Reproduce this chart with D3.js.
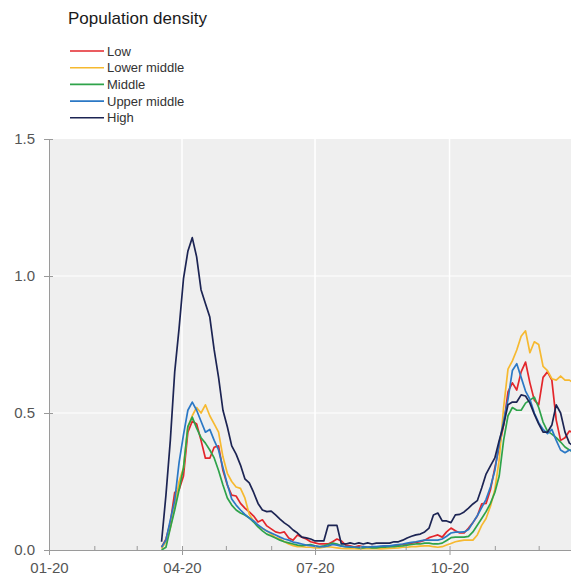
<!DOCTYPE html>
<html>
<head>
<meta charset="utf-8">
<script src="https://cdn.jsdelivr.net/npm/d3@7"></script>
<style>
    body { margin: 0; background: #ffffff; }
    svg { display: block; font-family: "Liberation Sans", Arial, sans-serif; }
</style>
</head>
<body>
<svg id="chart" width="571" height="577"></svg>
<script>
// Series values, one every 3 days starting 2020-03-18
const startDate = "2020-03-18";
const stepDays = 3;

const seriesNames = ["Low", "Lower middle", "Middle", "Upper middle", "High"];
const seriesColors = ["#e3262b", "#f6b930", "#2ea34a", "#2b78c5", "#1c2453"];

const low = [
    0.01, 0.04, 0.10, 0.21, 0.22, 0.27, 0.43, 0.47, 0.46, 0.40,
    0.335, 0.335, 0.375, 0.38, 0.29, 0.237, 0.20, 0.197, 0.17, 0.153,
    0.139, 0.124, 0.102, 0.11, 0.088, 0.077, 0.066, 0.062, 0.066, 0.044,
    0.036, 0.055, 0.047, 0.04, 0.03, 0.026, 0.022, 0.022, 0.022, 0.03,
    0.04, 0.033, 0.018, 0.015, 0.011, 0.015, 0.012, 0.01, 0.012, 0.01,
    0.012, 0.015, 0.012, 0.015, 0.018, 0.02, 0.022, 0.025, 0.028, 0.03,
    0.036, 0.045, 0.05, 0.055, 0.047, 0.066, 0.08, 0.07, 0.062, 0.062,
    0.08, 0.10, 0.124, 0.168, 0.17, 0.22, 0.30, 0.376, 0.456, 0.577,
    0.61, 0.584, 0.65, 0.686, 0.61, 0.547, 0.53, 0.63, 0.65, 0.62,
    0.474, 0.40, 0.41, 0.434, 0.427
];
const lowerMiddle = [
    0.005, 0.03, 0.08, 0.16, 0.25, 0.30, 0.45, 0.49, 0.52, 0.50,
    0.53, 0.49, 0.46, 0.43, 0.34, 0.28, 0.25, 0.23, 0.225, 0.19,
    0.13, 0.105, 0.09, 0.078, 0.07, 0.058, 0.045, 0.04, 0.03, 0.022,
    0.016, 0.012, 0.012, 0.01, 0.01, 0.008, 0.008, 0.01, 0.012, 0.01,
    0.008, 0.006, 0.005, 0.006, 0.005, 0.004, 0.005, 0.005, 0.006, 0.005,
    0.004, 0.005, 0.006, 0.007, 0.008, 0.01, 0.01, 0.012, 0.012, 0.014,
    0.015, 0.015, 0.012, 0.01, 0.012, 0.018, 0.024, 0.03, 0.033, 0.036,
    0.036, 0.036, 0.055, 0.09, 0.115, 0.16, 0.22, 0.33, 0.52, 0.66,
    0.69, 0.73, 0.78, 0.80, 0.72, 0.76, 0.75, 0.67, 0.655, 0.625,
    0.62, 0.635, 0.62, 0.62, 0.61
];
const middle = [
    0.0, 0.01, 0.08, 0.146, 0.22, 0.30, 0.45, 0.485, 0.445, 0.41,
    0.39, 0.365, 0.336, 0.29, 0.237, 0.19, 0.164, 0.146, 0.135, 0.128,
    0.117, 0.102, 0.084, 0.07, 0.058, 0.051, 0.044, 0.036, 0.03, 0.026,
    0.022, 0.018, 0.016, 0.018, 0.02, 0.015, 0.012, 0.015, 0.02, 0.025,
    0.022, 0.015, 0.012, 0.01, 0.01, 0.008, 0.008, 0.01, 0.008, 0.008,
    0.01, 0.01, 0.012, 0.012, 0.014, 0.015, 0.018, 0.02, 0.022, 0.022,
    0.025, 0.025, 0.022, 0.022, 0.025, 0.035, 0.045, 0.047, 0.047, 0.047,
    0.05, 0.066, 0.09, 0.115, 0.14, 0.17, 0.21, 0.27, 0.40, 0.49,
    0.52, 0.51, 0.51, 0.536, 0.547, 0.558, 0.52, 0.467, 0.434, 0.423,
    0.41, 0.394, 0.376, 0.365, 0.358
];
const upperMiddle = [
    0.01, 0.036, 0.11, 0.18, 0.32, 0.42, 0.51, 0.54, 0.51, 0.47,
    0.43, 0.44, 0.40, 0.365, 0.30, 0.24, 0.186, 0.164, 0.146, 0.13,
    0.117, 0.106, 0.091, 0.08, 0.069, 0.062, 0.055, 0.047, 0.04, 0.036,
    0.029, 0.026, 0.022, 0.018, 0.016, 0.014, 0.012, 0.012, 0.015, 0.02,
    0.018, 0.014, 0.012, 0.012, 0.01, 0.01, 0.012, 0.01, 0.012, 0.012,
    0.014, 0.015, 0.015, 0.018, 0.02, 0.022, 0.025, 0.028, 0.03, 0.033,
    0.036, 0.036, 0.036, 0.036, 0.04, 0.05, 0.062, 0.065, 0.065, 0.066,
    0.075, 0.10, 0.125, 0.155, 0.185, 0.23, 0.29, 0.39, 0.47, 0.55,
    0.655, 0.68, 0.63, 0.58, 0.55, 0.50, 0.465, 0.44, 0.425, 0.44,
    0.40, 0.365, 0.355, 0.365, 0.36
];
const high = [
    0.03, 0.20, 0.40, 0.65, 0.81, 0.99, 1.09, 1.14, 1.07, 0.95,
    0.90, 0.85, 0.73, 0.63, 0.51, 0.45, 0.38, 0.35, 0.31, 0.26,
    0.245, 0.21, 0.17, 0.146, 0.14, 0.142, 0.128, 0.113, 0.099, 0.088,
    0.073, 0.062, 0.047, 0.044, 0.04, 0.033, 0.033, 0.033, 0.09, 0.09,
    0.09, 0.022, 0.022, 0.026, 0.022, 0.026, 0.022, 0.026, 0.022, 0.025,
    0.025, 0.025, 0.025, 0.03, 0.03, 0.036, 0.044, 0.05, 0.055, 0.058,
    0.066, 0.08, 0.128, 0.135, 0.106, 0.106, 0.10, 0.128, 0.13, 0.139,
    0.153, 0.168, 0.18, 0.226, 0.277, 0.307, 0.336, 0.40, 0.456, 0.53,
    0.54, 0.54, 0.566, 0.562, 0.536, 0.496, 0.46, 0.43, 0.43, 0.456,
    0.53, 0.50, 0.43, 0.39, 0.38
];
const seriesValues = [low, lowerMiddle, middle, upperMiddle, high];

const yTicks = [0, 0.5, 1.0, 1.5];
const xTickLabels = ["01-20", "04-20", "07-20", "10-20"];

// layout
const width = 571, height = 577;
const plot = { left: 49, top: 139, bottom: 550, right: 584 };
const textColor = "#555555";
const axisColor = "#9a9a9a";

const svg = d3.select("#chart");

const parseTick = d3.utcParse("%m-%y");
const x = d3.scaleUtc()
    .domain([new Date(Date.UTC(2020, 0, 1)), new Date(Date.UTC(2021, 0, 1))])
    .range([plot.left, plot.right]);
const y = d3.scaleLinear()
    .domain([0, 1.5])
    .range([plot.bottom, plot.top]);

const start = d3.utcParse("%Y-%m-%d")(startDate);
const dates = low.map((_, i) => d3.utcDay.offset(start, i * stepDays));

// plot background
svg.append("rect")
    .attr("x", plot.left)
    .attr("y", plot.top)
    .attr("width", width - plot.left)
    .attr("height", plot.bottom - plot.top)
    .attr("fill", "#efefef");

// gridlines (white)
const quarterDates = xTickLabels.map(parseTick);
svg.append("g")
    .selectAll("line")
    .data(quarterDates.slice(1))
    .join("line")
        .attr("x1", d => x(d)).attr("x2", d => x(d))
        .attr("y1", plot.top).attr("y2", plot.bottom)
        .attr("stroke", "#ffffff")
        .attr("stroke-width", 1.5);
svg.append("g")
    .selectAll("line")
    .data(yTicks.slice(1, -1))
    .join("line")
        .attr("x1", plot.left).attr("x2", width)
        .attr("y1", d => y(d)).attr("y2", d => y(d))
        .attr("stroke", "#ffffff")
        .attr("stroke-width", 1);

// series lines
const line = d3.line()
    .x((d, i) => x(dates[i]))
    .y(d => y(d));

svg.append("g")
    .attr("fill", "none")
    .attr("stroke-width", 1.7)
    .attr("stroke-linejoin", "round")
    .selectAll("path")
    .data(seriesValues)
    .join("path")
        .attr("stroke", (d, i) => seriesColors[i])
        .attr("d", line);

// x axis: monthly minor ticks pointing up, quarter ticks with labels
svg.append("g")
    .attr("transform", `translate(0,${plot.bottom})`)
    .call(d3.axisBottom(x)
        .ticks(d3.utcMonth.every(1))
        .tickSizeInner(-4)
        .tickSizeOuter(0)
        .tickFormat(""))
    .call(g => g.select(".domain").attr("stroke", axisColor))
    .call(g => g.selectAll(".tick line").attr("stroke", axisColor));

svg.append("g")
    .attr("transform", `translate(0,${plot.bottom})`)
    .call(d3.axisBottom(x)
        .tickValues(quarterDates)
        .tickSizeInner(5)
        .tickSizeOuter(0)
        .tickPadding(7)
        .tickFormat(d3.utcFormat("%m-%y")))
    .call(g => g.select(".domain").remove())
    .call(g => g.selectAll(".tick line").attr("stroke", axisColor))
    .call(g => g.selectAll("text")
        .attr("fill", textColor)
        .style("font-size", "15px")
        .style("font-family", "'Liberation Sans', Arial, sans-serif"));

// y axis
svg.append("g")
    .attr("transform", `translate(${plot.left},0)`)
    .call(d3.axisLeft(y)
        .tickValues(yTicks)
        .tickSizeInner(5)
        .tickSizeOuter(0)
        .tickPadding(9)
        .tickFormat(d3.format(".1f")))
    .call(g => g.select(".domain").attr("stroke", axisColor))
    .call(g => g.selectAll(".tick line").attr("stroke", axisColor).attr("x2", 4).attr("x1", -5))
    .call(g => g.selectAll("text")
        .attr("fill", textColor)
        .style("font-size", "15px")
        .style("font-family", "'Liberation Sans', Arial, sans-serif"));

// title
svg.append("text")
    .attr("x", 68)
    .attr("y", 24)
    .attr("fill", "#1a1a1a")
    .style("font-size", "17px")
    .text("Population density");

// legend
const legend = svg.append("g")
    .attr("transform", "translate(70,51)")
    .selectAll("g")
    .data(seriesNames)
    .join("g")
        .attr("transform", (d, i) => `translate(0,${i * 16.7})`);
legend.append("line")
    .attr("x1", 0).attr("x2", 34)
    .attr("stroke", (d, i) => seriesColors[i])
    .attr("stroke-width", 1.6);
legend.append("text")
    .attr("x", 37)
    .attr("dy", "0.35em")
    .attr("fill", "#333333")
    .style("font-size", "13px")
    .text(d => d);
</script>
</body>
</html>
